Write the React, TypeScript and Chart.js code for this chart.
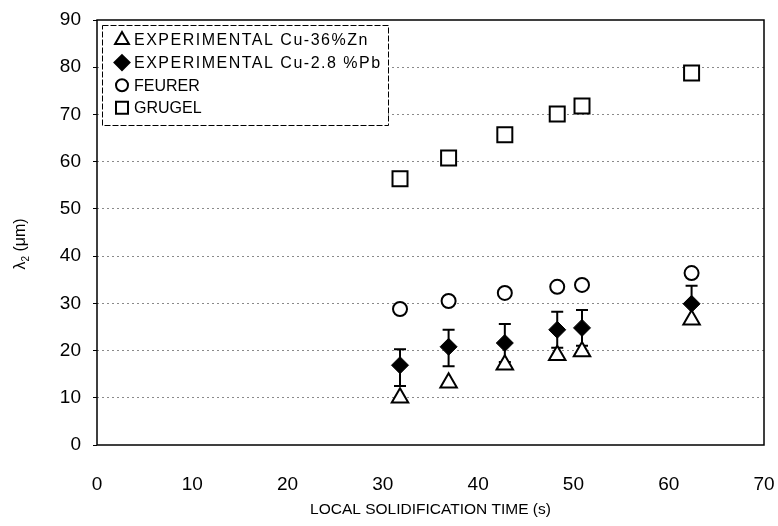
import React, { useEffect, useRef } from 'react';
import { Chart, registerables } from 'chart.js';

Chart.register(...registerables);

// ---- data ----
const solidificationTimes = [31.8, 36.9, 42.8, 48.3, 50.9, 62.4];
const expCuZn = [10.0, 13.2, 17.0, 19.0, 19.8, 26.5];
const expCuPb = [16.9, 20.8, 21.6, 24.4, 24.8, 29.9];
const expCuPbLow = [12.5, 16.7, 17.6, 20.6, 21.0, 26.1];
const expCuPbHigh = [20.3, 24.4, 25.6, 28.2, 28.6, 33.7];
const feurer = [28.8, 30.5, 32.2, 33.5, 33.9, 36.4];
const grugel = [56.4, 60.8, 65.7, 70.1, 71.8, 78.8];
const seriesLabels = [
  'EXPERIMENTAL Cu-36%Zn',
  'EXPERIMENTAL Cu-2.8 %Pb',
  'FEURER',
  'GRUGEL',
];
const xAxisTitle = 'LOCAL SOLIDIFICATION TIME (s)';
const yAxisTitleParts = ['λ', '2', ' (μm)'];
const xRange = [0, 70, 10];
const yRange = [0, 90, 10];

const FONT = '"Liberation Sans", Arial, sans-serif';

function pts(ys: number[]) {
  return solidificationTimes.map((x, i) => ({ x, y: ys[i] }));
}

function drawMarker(ctx: CanvasRenderingContext2D, style: string, x: number, y: number, r: number, fill: string) {
  ctx.beginPath();
  if (style === 'triangle') {
    const w = r * Math.sqrt(3) / 2;
    ctx.moveTo(x, y - r);
    ctx.lineTo(x + w, y + r / 2);
    ctx.lineTo(x - w, y + r / 2);
    ctx.closePath();
  } else if (style === 'rectRot') {
    ctx.moveTo(x, y - r);
    ctx.lineTo(x + r, y);
    ctx.lineTo(x, y + r);
    ctx.lineTo(x - r, y);
    ctx.closePath();
  } else if (style === 'circle') {
    ctx.arc(x, y, r, 0, Math.PI * 2);
  } else {
    ctx.rect(x - r, y - r, 2 * r, 2 * r);
  }
  ctx.fillStyle = fill;
  ctx.fill();
  ctx.lineWidth = 2;
  ctx.strokeStyle = '#000';
  ctx.stroke();
}

const errorBarPlugin = {
  id: 'errorBars',
  beforeDatasetsDraw(chart: any) {
    const { ctx, scales } = chart;
    const xs = scales.x;
    const ys = scales.y;
    ctx.save();
    ctx.strokeStyle = '#000';
    ctx.lineWidth = 2;
    solidificationTimes.forEach((t, i) => {
      const px = xs.getPixelForValue(t);
      const y1 = ys.getPixelForValue(expCuPbLow[i]);
      const y2 = ys.getPixelForValue(expCuPbHigh[i]);
      ctx.beginPath();
      ctx.moveTo(px, y1);
      ctx.lineTo(px, y2);
      ctx.moveTo(px - 6, y1);
      ctx.lineTo(px + 6, y1);
      ctx.moveTo(px - 6, y2);
      ctx.lineTo(px + 6, y2);
      ctx.stroke();
    });
    ctx.restore();
  },
};

const framePlugin = {
  id: 'frame',
  beforeDatasetsDraw(chart: any) {
    const { ctx, chartArea: a } = chart;
    ctx.save();
    ctx.strokeStyle = '#000';
    ctx.lineWidth = 1.5;
    ctx.strokeRect(a.left, a.top, a.right - a.left, a.bottom - a.top);
    ctx.restore();
  },
};

const legendPlugin = {
  id: 'boxLegend',
  afterDatasetsDraw(chart: any) {
    const { ctx, chartArea: a } = chart;
    const left = a.left + 5;
    const top = a.top + 5;
    const w = 286;
    const h = 100;
    ctx.save();
    ctx.fillStyle = '#fff';
    ctx.fillRect(left, top, w, h);
    ctx.setLineDash([6, 2]);
    ctx.lineWidth = 1;
    ctx.strokeStyle = '#000';
    ctx.strokeRect(left + 0.5, top + 0.5, w, h);
    ctx.setLineDash([]);
    const sizes: Record<string, number> = { triangle: 8, rectRot: 7.5, circle: 6, rect: 6 };
    chart.data.datasets.forEach((ds: any, i: number) => {
      const cy = top + 15 + i * 22.6;
      drawMarker(ctx, ds.pointStyle, left + 20, cy, sizes[ds.pointStyle], ds.pointBackgroundColor);
      ctx.fillStyle = '#000';
      ctx.font = '16px ' + FONT;
      ctx.textBaseline = 'middle';
      ctx.textAlign = 'left';
      (ctx as any).letterSpacing = ds.label.startsWith('EXPERIMENTAL') ? '1.5px' : '0px';
      ctx.fillText(ds.label, left + 32, cy + 1);
      (ctx as any).letterSpacing = '0px';
    });
    ctx.restore();
  },
};

const yTitlePlugin = {
  id: 'yTitle',
  afterDraw(chart: any) {
    const { ctx } = chart;
    ctx.save();
    ctx.translate(21, 244);
    ctx.rotate(-Math.PI / 2);
    ctx.fillStyle = '#000';
    ctx.textBaseline = 'middle';
    ctx.textAlign = 'left';
    const big = '16px ' + FONT;
    const small = '10px ' + FONT;
    ctx.font = big;
    const w0 = ctx.measureText(yAxisTitleParts[0]).width;
    const w2 = ctx.measureText(yAxisTitleParts[2]).width;
    ctx.font = small;
    const w1 = ctx.measureText(yAxisTitleParts[1]).width;
    let x = -(w0 + w1 + w2) / 2;
    ctx.font = big;
    ctx.fillText(yAxisTitleParts[0], x, 0);
    x += w0;
    ctx.font = small;
    ctx.fillText(yAxisTitleParts[1], x, 5);
    x += w1;
    ctx.font = big;
    ctx.fillText(yAxisTitleParts[2], x, 0);
    ctx.restore();
  },
};

export default function App() {
  const ref = useRef<HTMLCanvasElement | null>(null);
  useEffect(() => {
    if (!ref.current) return;
    const chart = new Chart(ref.current, {
      type: 'scatter',
      data: {
        datasets: [
          {
            label: seriesLabels[0],
            data: pts(expCuZn),
            pointStyle: 'triangle',
            pointRadius: 9.5,
            pointBorderWidth: 2,
            pointBorderColor: '#000',
            pointBackgroundColor: '#fff',
          },
          {
            label: seriesLabels[1],
            data: pts(expCuPb),
            pointStyle: 'rectRot',
            pointRadius: 8.5,
            pointBorderWidth: 1,
            pointBorderColor: '#000',
            pointBackgroundColor: '#000',
          },
          {
            label: seriesLabels[2],
            data: pts(feurer),
            pointStyle: 'circle',
            pointRadius: 7,
            pointBorderWidth: 2,
            pointBorderColor: '#000',
            pointBackgroundColor: '#fff',
          },
          {
            label: seriesLabels[3],
            data: pts(grugel),
            pointStyle: 'rect',
            pointRadius: 10.6,
            pointBorderWidth: 2,
            pointBorderColor: '#000',
            pointBackgroundColor: '#fff',
          },
        ] as any,
      },
      options: {
        animation: false,
        responsive: false,
        events: [],
        layout: { padding: { top: 20, right: 14, left: 0, bottom: 0 } },
        plugins: {
          legend: { display: false },
          tooltip: { enabled: false },
        },
        scales: {
          x: {
            type: 'linear',
            min: xRange[0],
            max: xRange[1],
            ticks: {
              stepSize: xRange[2],
              padding: 20,
              color: '#000',
              font: { family: FONT, size: 19 },
            },
            grid: { display: false },
            border: { display: false },
            title: {
              display: true,
              text: xAxisTitle,
              color: '#000',
              font: { family: FONT, size: 15.5 },
              padding: { top: 0, bottom: 7 },
            },
            afterFit(scale: any) {
              scale.height = 81;
              scale.paddingLeft = 0;
              scale.paddingRight = 0;
            },
          },
          y: {
            type: 'linear',
            min: yRange[0],
            max: yRange[1],
            ticks: {
              stepSize: yRange[2],
              padding: 12,
              color: '#000',
              font: { family: FONT, size: 19 },
            },
            grid: {
              color: (c: any) => (c.tick && (c.tick.value === yRange[0] || c.tick.value === yRange[1]) ? 'rgba(0,0,0,0)' : '#8a8a8a'),
              lineWidth: 1,
              drawTicks: true,
              tickLength: 4,
              tickColor: '#000',
            },
            border: { display: false, dash: [2, 3] },
            afterFit(scale: any) {
              scale.width = 97;
              scale.paddingTop = 0;
              scale.paddingBottom = 0;
            },
          },
        },
      } as any,
      plugins: [framePlugin, errorBarPlugin, legendPlugin, yTitlePlugin],
    });
    return () => chart.destroy();
  }, []);
  return (
    <div style={{ position: 'absolute', left: 0, top: 0, width: 778, height: 526, background: '#fff' }}>
      <canvas ref={ref} width={778} height={526} style={{ display: 'block' }} />
    </div>
  );
}
